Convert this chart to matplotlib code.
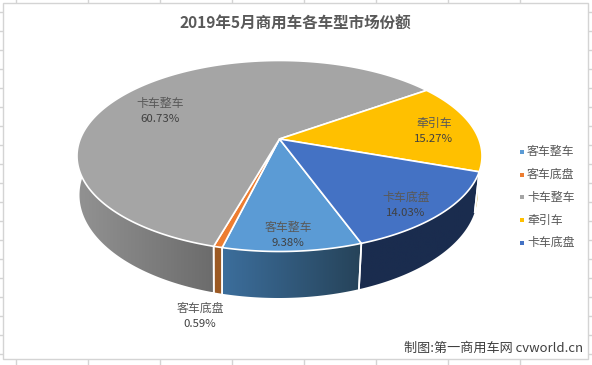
import numpy as np
import matplotlib
matplotlib.use('Agg')
import matplotlib.pyplot as plt
from matplotlib.colors import to_rgb

plt.rcParams['font.family'] = ['Noto Sans CJK SC', 'DejaVu Sans']

# data
categories = ['客车整车', '客车底盘', '卡车整车', '牵引车', '卡车底盘']
shares = [9.38, 0.59, 60.73, 15.27, 14.03]
colors = ['#5B9BD5', '#ED7D31', '#A5A5A5', '#FFC000', '#4472C4']
side_left = ['#3c6e9c', '#9c5a24', '#929292', '#b58a00', '#1a2c4e']
side_right = ['#264359', '#9c5a24', '#6c6c6c', '#b58a00', '#1a2c4e']
title = '2019年5月商用车各车型市场份额'
credit = '制图:第一商用车网 cvworld.cn'

W, H = 592, 365
first_angle = 160  # degrees clockwise from 12 o'clock
tilt = 0.178  # apex shift from perspective
top_ell = (279.5, 156, 202.5, 95.5)
bot_ell = (278.5, 195, 199, 103)

# label centres in pixels, same order as categories
label_pos = [(288, 235), (200, 316), (160, 111), (434, 131), (406, 205)]


def project(theta, ell):
    cx, cy, a, b = ell
    x, y = np.cos(theta), np.sin(theta)
    den = 1 + tilt * y
    xp = x * np.sqrt(1 - tilt ** 2) / den
    yp = (y + tilt) / den
    return cx + a * xp, cy - b * yp


fig = plt.figure(figsize=(W / 100, H / 100), dpi=100)
ax = fig.add_axes([0, 0, 1, 1])

# sheet grid behind the chart
for x in range(16, W, 72):
    ax.plot([x, x], [0, H], color='#d4d4d4', lw=1)
for y in range(12, H, 19):
    ax.plot([0, W], [y, y], color='#d4d4d4', lw=1)
ax.fill([3, 588, 588, 3], [3, 3, 359, 359], facecolor='white', edgecolor='#d4d4d4', lw=1, zorder=2)

# slice angles, clockwise
edges = np.cumsum([0] + shares) / sum(shares) * 2 * np.pi
start = np.pi / 2 - np.radians(first_angle)

# sides first
for i in range(len(shares)):
    th = start - np.linspace(edges[i], edges[i + 1], 200)
    th = th[np.sin(th) < 0.12]
    if len(th) < 2:
        continue
    tx, ty = project(th, top_ell)
    bx, by = project(th, bot_ell)
    px = np.r_[tx, bx[::-1]]
    py = np.r_[ty, by[::-1]]
    poly = ax.fill(px, py, facecolor='none', edgecolor='none', zorder=3)[0]
    c0, c1 = np.array(to_rgb(side_left[i])), np.array(to_rgb(side_right[i]))
    grad = np.linspace(c0, c1, 64)[None, :, :]
    im = ax.imshow(grad, extent=[px.min(), px.max(), py.max(), py.min()], aspect='auto', zorder=3)
    im.set_clip_path(poly)
    ax.plot(np.r_[tx[0], bx[0]], np.r_[ty[0], by[0]], color='white', lw=1.2, zorder=4)
    ax.plot(np.r_[tx[-1], bx[-1]], np.r_[ty[-1], by[-1]], color='white', lw=1.2, zorder=4)

# top face
cx, cy, a, b = top_ell
apex_y = cy - b * tilt
for i in range(len(shares)):
    th = start - np.linspace(edges[i], edges[i + 1], 300)
    tx, ty = project(th, top_ell)
    ax.fill(np.r_[cx, tx], np.r_[apex_y, ty], facecolor=colors[i], edgecolor='white', lw=1.2,
            joinstyle='round', zorder=5)

# labels
for i, name in enumerate(categories):
    lx, ly = label_pos[i]
    ax.text(lx, ly - 8, name, ha='center', va='center', fontsize=8.6, color='#595959', zorder=6)
    ax.text(lx, ly + 8, f'{shares[i]:.2f}%', ha='center', va='center', fontsize=8.2, color='#404040', zorder=6)

# legend
for i, name in enumerate(categories):
    ly = 152 + i * 22.7
    ax.plot([521.5], [ly], marker='s', ms=2.6, color=colors[i], mew=0, zorder=6)
    ax.text(527, ly, name, ha='left', va='center', fontsize=8.6, color='#595959', zorder=6)

ax.text(295, 24, title, ha='center', va='center', fontsize=11.2, fontweight='bold', color='#595959', zorder=6)
ax.text(583, 348, credit, ha='right', va='center', fontsize=9.45, color='#404040', zorder=6)

ax.set_xlim(0, W)
ax.set_ylim(H, 0)
ax.axis('off')
fig.savefig('out.png', dpi=100)
